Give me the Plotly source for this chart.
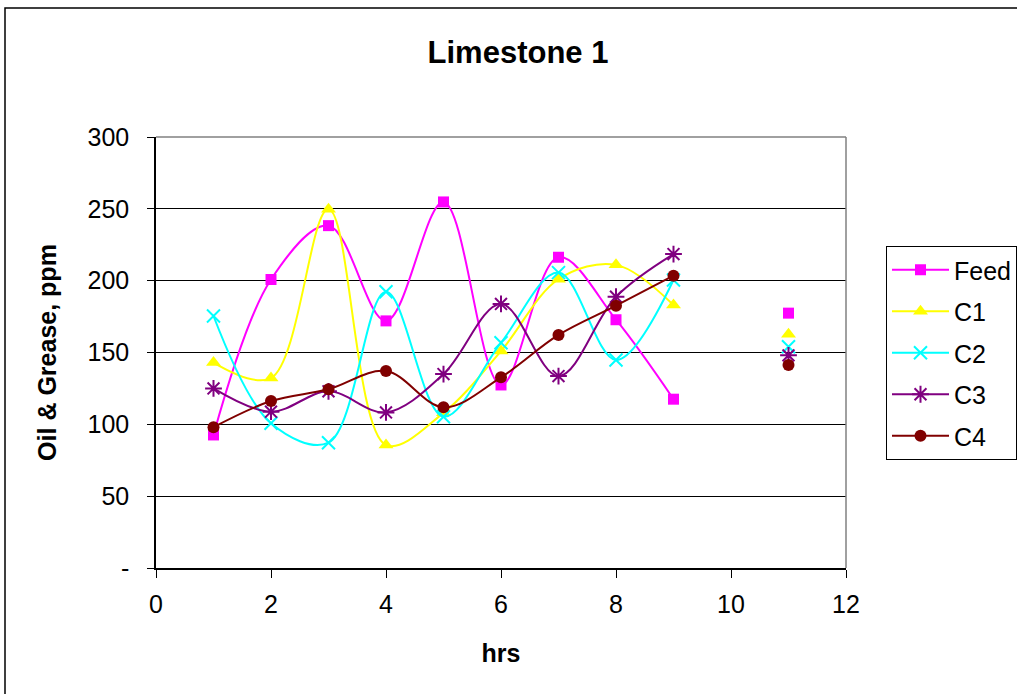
import plotly.graph_objects as go

hours = [1, 2, 3, 4, 5, 6, 7, 8, 9, 10, 11]
feed = [92.6, 200.8, 238.3, 172.0, 254.8, 127.4, 216.3, 172.8, 117.5, None, 177.4]
c1 = [143.0, 132.2, 249.7, 85.6, 108.0, 151.0, 201.0, 211.0, 183.0, None, 162.7]
c2 = [175.4, 100.7, 87.2, 192.3, 105.3, 156.8, 205.6, 144.8, 200.5, None, 154.0]
c3 = [125.0, 108.8, 123.0, 108.3, 135.0, 183.8, 133.6, 188.8, 218.5, None, 148.0]
c4 = [98.0, 116.2, 124.4, 137.1, 111.9, 132.7, 162.2, 182.6, 203.5, None, 141.3]

series_names = ["Feed", "C1", "C2", "C3", "C4"]
series_values = [feed, c1, c2, c3, c4]
colors = ["#FF00FF", "#FFFF00", "#00FFFF", "#800080", "#800000"]
symbols = ["square", "triangle-up", "x-thin", "asterisk", "circle"]
sizes = [11, 13, 13, 14, 12]

y_ticks = [0, 50, 100, 150, 200, 250, 300]
y_ticktext = ["-", "50", "100", "150", "200", "250", "300"]
x_ticks = [0, 2, 4, 6, 8, 10, 12]

FONT = "Arial, Liberation Sans, sans-serif"
FS = 25

fig = go.Figure()
for name, vals, col, sym, sz in zip(series_names, series_values, colors, symbols, sizes):
    thin = sym in ("x-thin", "asterisk")
    fig.add_trace(go.Scatter(
        x=hours, y=vals, name=name, legendgroup=name,
        mode="lines+markers",
        line=dict(color=col, width=2, shape="spline", smoothing=1.0),
        marker=dict(symbol=sym, size=sz, color=col,
                    line=dict(color=col, width=2 if thin else 0)),
        connectgaps=False,
    ))

L, R, T, B = 156, 171, 137, 126
pw, ph = 1017 - L - R, 694 - T - B

fig.update_layout(
    width=1017, height=694,
    margin=dict(l=L, r=R, t=T, b=B, autoexpand=False),
    paper_bgcolor="white", plot_bgcolor="white",
    font=dict(family=FONT, size=FS, color="black"),
    title=dict(text="<b>Limestone 1</b>", x=518 / 1017, xanchor="center",
               y=1 - 52 / 694, yanchor="middle",
               font=dict(family=FONT, size=31, color="black")),
    xaxis=dict(range=[0, 12], tickvals=x_ticks, showgrid=False,
               showline=True, linecolor="black", linewidth=1.5,
               ticks="outside", ticklen=8, tickcolor="black",
               ticklabelstandoff=5,
               tickfont=dict(size=FS), zeroline=False,
               title=dict(text="<b>hrs</b>", standoff=28, font=dict(size=FS))),
    yaxis=dict(range=[0, 300], tickvals=y_ticks, ticktext=y_ticktext,
               showgrid=True, gridcolor="black", gridwidth=1,
               showline=True, linecolor="black", linewidth=1.5,
               ticks="outside", ticklen=7, tickcolor="black",
               ticklabelstandoff=13,
               tickfont=dict(size=FS), zeroline=False,
               title=dict(text="<b>Oil & Grease, ppm</b>", standoff=24,
                          font=dict(size=FS))),
    legend=dict(x=(886 - L) / pw, xanchor="left",
                y=(694 - B - 246) / ph, yanchor="top",
                bordercolor="black", borderwidth=1, bgcolor="white",
                font=dict(size=FS), tracegroupgap=6,
                itemwidth=57),
    showlegend=True,
)

# plot-area top/right border (grey) and outer chart border (black)
fig.add_shape(type="line", xref="paper", yref="paper", x0=0, x1=1, y0=1, y1=1,
              line=dict(color="#808080", width=1.5))
fig.add_shape(type="line", xref="paper", yref="paper", x0=1, x1=1, y0=0, y1=1,
              line=dict(color="#808080", width=1.5))
fig.add_shape(type="rect", xref="paper", yref="paper",
              x0=(5 - L) / pw, x1=1.4, y0=-0.5, y1=(694 - B - 8) / ph,
              line=dict(color="black", width=1.5), fillcolor="rgba(0,0,0,0)")

fig.write_html("out.html")
